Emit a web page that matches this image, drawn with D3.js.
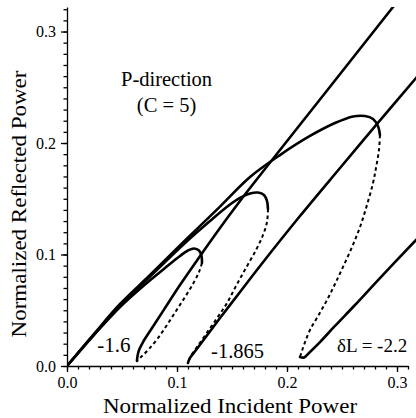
<!DOCTYPE html>
<html>
<head>
<meta charset="utf-8">
<script src="https://cdn.jsdelivr.net/npm/d3@7"></script>
<style>
  html, body { margin: 0; padding: 0; background: #fff; }
  svg { display: block; }
</style>
</head>
<body>
<svg id="chart" width="416" height="418"></svg>
<script>
// Reflected vs incident power (P-direction, C = 5) for three detunings.
// Each curve: stable upper branch (solid), unstable middle branch (dashed),
// stable lower branch (solid). Points are [incident, reflected].

const SERIF = "'Liberation Serif', 'Times New Roman', serif";

const detunings = ["-1.6", "-1.865", "\u03b4L = -2.2"];

const upper16 = [[0,0],[0.0245,0.0278],[0.0482,0.0529],[0.0709,0.0731],[0.0891,0.0879],
  [0.1027,0.0987],[0.11,0.1036],[0.1155,0.1054],[0.12,0.1036],[0.1223,0.0987],[0.1227,0.0924]];
const middle16 = [[0.1227,0.0924],[0.12,0.0843],[0.1145,0.0735],[0.1073,0.0619],[0.0991,0.0493],
  [0.0909,0.0368],[0.0827,0.0251],[0.0745,0.0152],[0.0682,0.009],[0.0636,0.0045]];
const lower16 = [[0.0636,0.0045],[0.0641,0.009],[0.0655,0.0143],[0.0691,0.0215],[0.0773,0.0341],
  [0.0891,0.052],[0.1027,0.0726],[0.1191,0.096],[0.1391,0.1238],[0.1573,0.148],
  [0.1936,0.1937],[0.2964,0.3220],[0.3018,0.3291]];

const upper1865 = [[0,0],[0.0245,0.0283],[0.0482,0.0547],[0.0755,0.0803],[0.1073,0.1103],
  [0.13,0.13],[0.1464,0.1435],[0.1573,0.1507],[0.1664,0.1547],[0.1736,0.1556],
  [0.1791,0.1534],[0.1818,0.148],[0.1827,0.1408]];
const middle1865 = [[0.1827,0.1408],[0.1818,0.1291],[0.1782,0.1175],[0.1718,0.104],
  [0.1627,0.0879],[0.1536,0.0717],[0.1455,0.0565],[0.1364,0.0430],[0.1264,0.0287],
  [0.1182,0.0170],[0.1127,0.009],[0.11,0.0027]];
const lower1865 = [[0.11,0.0027],[0.1118,0.0072],[0.1173,0.0143],[0.1255,0.0251],
  [0.1391,0.0430],[0.1573,0.0664],[0.1755,0.0897],[0.2118,0.1345],[0.2482,0.1776],
  [0.2809,0.2161],[0.3173,0.2583],[0.3227,0.2646]];

const upper22 = [[0,0],[0.0245,0.0287],[0.0482,0.0556],[0.0755,0.0816],[0.1073,0.1126],
  [0.1391,0.1430],[0.1664,0.1695],[0.1936,0.1892],[0.2209,0.2063],[0.2436,0.2179],
  [0.26,0.2238],[0.2709,0.2242],[0.2782,0.2215],[0.2827,0.2152],[0.2845,0.2072]];
const middle22 = [[0.2845,0.2072],[0.2836,0.1937],[0.2809,0.1776],[0.2782,0.1641],
  [0.2727,0.1444],[0.2664,0.1247],[0.2591,0.1067],[0.2509,0.0888],[0.2436,0.0735],
  [0.2364,0.0592],[0.2282,0.0448],[0.2209,0.0323],[0.2164,0.0215],[0.2136,0.0135],[0.2118,0.0081]];
const lower22 = [[0.2118,0.0081],[0.2155,0.0076],[0.2209,0.0126],[0.23,0.0215],
  [0.2436,0.0359],[0.2618,0.0547],[0.2845,0.0789],[0.3173,0.1130],[0.3227,0.1184]];

const xTickLabels = ["0.0", "0.1", "0.2", "0.3"];
const yTickLabels = ["0.0", "0.1", "0.2", "0.3"];

const svg = d3.select("#chart");

const x = d3.scaleLinear().domain([0, 0.31]).range([67, 408]);
const y = d3.scaleLinear().domain([0, 0.322]).range([366, 7]);

const majorTicks = xTickLabels.map(Number);
const minorX = d3.range(0, 32).map(i => i / 100);
const minorY = d3.range(0, 33).map(i => i / 100);

function styleAxis(g) {
  g.attr("font-family", SERIF);
  g.selectAll("line, path").attr("stroke", "#000").attr("stroke-width", 1.3);
  g.selectAll("text").style("font-family", SERIF)
    .style("font-size", "16px").attr("fill", "#000");
}

// Minor ticks (every 0.01)
svg.append("g")
  .attr("transform", `translate(0,${y(0)})`)
  .call(d3.axisBottom(x).tickValues(minorX).tickSize(3.5).tickSizeOuter(0).tickFormat(""))
  .call(styleAxis);
svg.append("g")
  .attr("transform", `translate(${x(0)},0)`)
  .call(d3.axisLeft(y).tickValues(minorY).tickSize(3.5).tickSizeOuter(0).tickFormat(""))
  .call(styleAxis);

// Major ticks with labels
svg.append("g")
  .attr("transform", `translate(0,${y(0)})`)
  .call(d3.axisBottom(x).tickValues(majorTicks).tickSize(6).tickSizeOuter(0)
    .tickPadding(5).tickFormat((d, i) => xTickLabels[i]))
  .call(g => g.select(".domain").remove())
  .call(styleAxis);
svg.append("g")
  .attr("transform", `translate(${x(0)},0)`)
  .call(d3.axisLeft(y).tickValues(majorTicks).tickSize(6).tickSizeOuter(0)
    .tickPadding(5).tickFormat((d, i) => yTickLabels[i]))
  .call(g => g.select(".domain").remove())
  .call(styleAxis);

// Curves
svg.append("defs").append("clipPath").attr("id", "plotClip")
  .append("rect").attr("x", x(0)).attr("y", y(0.322))
  .attr("width", 420).attr("height", y(0) - y(0.322) + 2);

const line = d3.line().x(d => x(d[0])).y(d => y(d[1])).curve(d3.curveCatmullRom.alpha(0.5));
const plot = svg.append("g").attr("clip-path", "url(#plotClip)");

const solids = [upper16, lower16, upper1865, lower1865, upper22, lower22];
const dashed = [middle16, middle1865, middle22];

plot.selectAll("path.solid").data(solids).join("path")
  .attr("class", "solid").attr("d", line)
  .attr("fill", "none").attr("stroke", "#000").attr("stroke-width", 2.6)
  .attr("stroke-linejoin", "round").attr("stroke-linecap", "round");
plot.selectAll("path.dash").data(dashed).join("path")
  .attr("class", "dash").attr("d", line)
  .attr("fill", "none").attr("stroke", "#000").attr("stroke-width", 2)
  .attr("stroke-dasharray", "3.5,3");

// Curve labels
const labelPos = [[0.0275, 0.013], [0.131, 0.007], [0.2455, 0.013]];
const labelSize = [21, 20.5, 19];
svg.selectAll("text.curveLabel").data(detunings).join("text")
  .attr("class", "curveLabel")
  .attr("x", (d, i) => x(labelPos[i][0])).attr("y", (d, i) => y(labelPos[i][1]))
  .style("font-family", SERIF).style("font-size", (d, i) => labelSize[i] + "px").attr("fill", "#000")
  .text(d => d);

svg.append("text").attr("x", x(0.0905)).attr("y", y(0.251))
  .attr("text-anchor", "middle").style("font-family", SERIF).style("font-size", "20.5px")
  .text("P-direction");
svg.append("text").attr("x", x(0.0905)).attr("y", y(0.228))
  .attr("text-anchor", "middle").style("font-family", SERIF).style("font-size", "20.5px")
  .text("(C = 5)");

// Axis titles
const xTitle = svg.append("text").attr("x", 230).attr("y", 413)
  .attr("text-anchor", "middle").style("font-family", SERIF).style("font-size", "20px")
  .text("Normalized Incident Power");
const yTitle = svg.append("text").attr("transform", "translate(26,204) rotate(-90)")
  .attr("text-anchor", "middle").style("font-family", SERIF).style("font-size", "20px")
  .text("Normalized Reflected Power");
[xTitle, yTitle].forEach(t => {
  const w = t.node().getComputedTextLength();
  t.attr("textLength", w * 1.15).attr("lengthAdjust", "spacingAndGlyphs");
});
</script>
</body>
</html>
